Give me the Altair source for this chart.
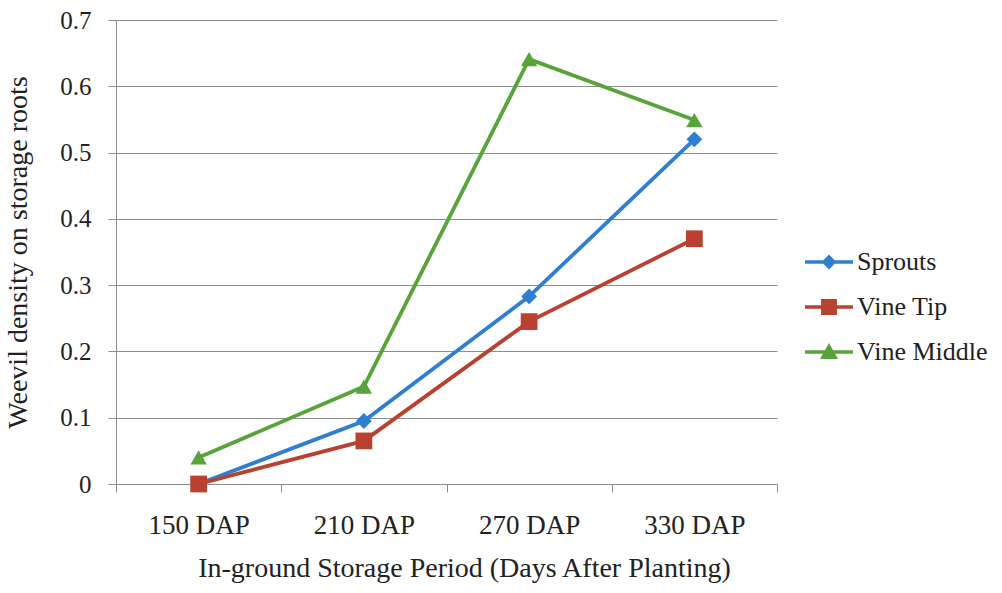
import altair as alt
import pandas as pd

# Weevil density on storage roots by planting material and harvest period
periods = ["150 DAP", "210 DAP", "270 DAP", "330 DAP"]
series = ["Sprouts", "Vine Tip", "Vine Middle"]
sprouts = [0.0, 0.095, 0.283, 0.52]
vine_tip = [0.0, 0.065, 0.245, 0.37]
vine_middle = [0.04, 0.147, 0.641, 0.549]
colors = ["#2f7fd0", "#b8412f", "#58a43a"]
marker_shapes = ["diamond", "square", "triangle-up"]
marker_sizes = [250, 280, 270]

# legend glyphs: a short line with the series marker on top
legend_paths = [
    "M-1.6,-0.12H1.6V0.12H-1.6Z M0,-0.5L0.5,0L0,0.5L-0.5,0Z",
    "M-1.6,-0.12H1.6V0.12H-1.6Z M-0.53,-0.53H0.53V0.53H-0.53Z",
    "M-1.6,-0.12H1.6V0.12H-1.6Z M0,-0.6L0.6,0.47H-0.6Z",
]

rows = []
for name, vals in zip(series, [sprouts, vine_tip, vine_middle]):
    for p, v in zip(periods, vals):
        rows.append({"period": p, "density": v, "series": name})
df = pd.DataFrame(rows)

FONT = "Liberation Serif"
GREY = "#8a8f8f"

x_enc = alt.X(
    "period:N",
    sort=periods,
    scale=alt.Scale(type="band", domain=periods, paddingInner=0, paddingOuter=0),
    axis=alt.Axis(
        title="In-ground Storage Period (Days After Planting)",
        labelAngle=0,
        tickBand="extent",
        grid=False,
        domainColor=GREY,
        tickColor=GREY,
        tickSize=8,
        labelFontSize=27,
        titleFontSize=28,
        labelPadding=20,
        titlePadding=16,
        titleX=348,
    ),
)
y_enc = alt.Y(
    "density:Q",
    scale=alt.Scale(domain=[0, 0.7], nice=False),
    axis=alt.Axis(
        title="Weevil density on storage roots",
        values=[0, 0.1, 0.2, 0.3, 0.4, 0.5, 0.6, 0.7],
        labelExpr="datum.value == 0 ? '0' : format(datum.value, '.1f')",
        gridColor=GREY,
        domainColor=GREY,
        tickColor=GREY,
        tickSize=8,
        labelFontSize=25,
        titleFontSize=28,
        labelPadding=17,
        titlePadding=27,
    ),
)

layers = []
for name, col, shp, sz in zip(series, colors, marker_shapes, marker_sizes):
    base = alt.Chart(df).transform_filter(alt.datum.series == name)
    layers.append(
        base.mark_line(color=col, strokeWidth=3.8).encode(x=x_enc, y=y_enc)
    )
    layers.append(
        base.mark_point(color=col, shape=shp, filled=True, opacity=1,
                        size=sz).encode(x=x_enc, y=y_enc)
    )

legend_layer = alt.Chart(df).mark_point(filled=True, size=0, opacity=1).encode(
    x=x_enc,
    y=y_enc,
    color=alt.Color(
        "series:N",
        scale=alt.Scale(domain=series, range=colors),
        legend=alt.Legend(
            title=None,
            orient="none",
            legendX=698,
            legendY=227,
            symbolSize=900,
            symbolOpacity=1,
            symbolStrokeWidth=0,
            labelFontSize=26,
            labelColor="#222222",
            labelOffset=13,
            rowPadding=17,
            padding=0,
        ),
    ),
    shape=alt.Shape(
        "series:N",
        scale=alt.Scale(domain=series, range=legend_paths),
        legend=alt.Legend(title=None),
    ),
)

chart = (
    alt.layer(*layers, legend_layer)
    .properties(
        width=661,
        height=464,
        autosize=alt.AutoSizeParams(type="none"),
        padding={"left": 116, "top": 20, "right": 225, "bottom": 109},
        background="white",
    )
    .configure(font=FONT)
    .configure_view(stroke=None)
    .configure_axis(
        labelFont=FONT,
        titleFont=FONT,
        labelColor="#222222",
        titleColor="#222222",
        titleFontWeight="normal",
    )
    .configure_legend(labelFont=FONT, titleFont=FONT)
)

chart.save("out.html", embed_options={"renderer": "svg", "actions": False})
